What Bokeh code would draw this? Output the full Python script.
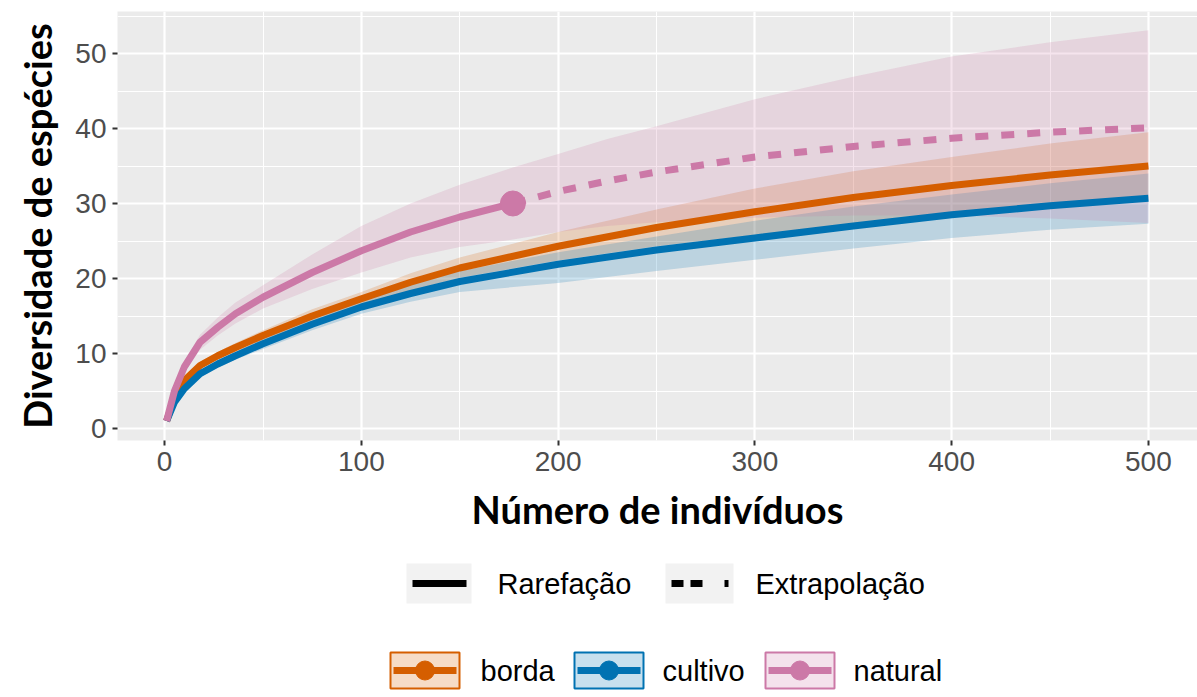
from bokeh.plotting import figure
from bokeh.models import Range1d, FixedTicker
from bokeh.layouts import column
from bokeh.embed import file_html
from bokeh.resources import INLINE
from bokeh.core.properties import value

# ---- species accumulation data (number of individuals vs. species) ----
groups = ["borda", "cultivo", "natural"]
method_labels = ["Rarefação", "Extrapolação"]

grid_x = [1, 5, 10, 18, 27, 36, 50, 75, 100, 125, 150, 200, 250, 300, 350, 400, 450, 500]

borda_y = [1, 4.0, 6.4, 8.4, 9.7, 10.8, 12.4, 15.0, 17.3, 19.5, 21.4, 24.3, 26.8, 28.9, 30.8, 32.4, 33.8, 35.0]
borda_lo = [1, 3.7, 6.0, 7.9, 9.2, 10.2, 11.7, 14.2, 16.4, 18.4, 20.1, 22.4, 24.3, 25.8, 27.3, 28.6, 29.7, 30.7]
borda_hi = [1, 4.3, 6.8, 8.9, 10.2, 11.4, 13.1, 15.9, 18.2, 20.7, 22.8, 26.2, 29.2, 32.0, 34.3, 36.2, 38.0, 39.5]

cultivo_y = [1, 3.5, 5.3, 7.3, 8.6, 9.7, 11.3, 13.9, 16.2, 18.0, 19.6, 21.9, 23.8, 25.4, 27.0, 28.5, 29.7, 30.7]
cultivo_lo = [1, 3.2, 4.9, 6.8, 8.1, 9.2, 10.6, 13.1, 15.3, 16.9, 18.2, 19.4, 21.0, 22.5, 24.0, 25.4, 26.5, 27.3]
cultivo_hi = [1, 3.8, 5.7, 7.8, 9.1, 10.2, 12.0, 14.7, 17.1, 19.2, 21.0, 23.5, 25.6, 27.7, 29.6, 31.2, 32.7, 34.0]

natural_rare_x = [1, 5, 10, 18, 27, 36, 50, 75, 100, 125, 150, 177]
natural_rare_y = [1, 5.0, 8.2, 11.5, 13.5, 15.3, 17.5, 20.8, 23.7, 26.2, 28.2, 30.0]
natural_extra_x = [177, 200, 225, 250, 300, 350, 400, 450, 500]
natural_extra_y = [30.0, 31.6, 33.0, 34.2, 36.2, 37.6, 38.7, 39.5, 40.1]
natural_band_x = natural_rare_x + natural_extra_x[1:]
natural_lo = [1, 4.5, 7.5, 10.5, 12.4, 14.0, 16.0, 18.6, 20.8, 22.8, 24.2, 25.2,
              26.2, 27.0, 27.5, 28.1, 28.4, 28.4, 28.0, 27.4]
natural_hi = [1, 5.5, 8.9, 12.5, 14.8, 16.8, 19.1, 23.2, 27.0, 30.0, 32.5, 34.8,
              36.6, 38.6, 40.3, 43.9, 46.9, 49.6, 51.5, 53.1]

x_ticks = [0, 100, 200, 300, 400, 500]
x_minor = [50, 150, 250, 350, 450]
y_ticks = [0, 10, 20, 30, 40, 50]
y_minor = [5, 15, 25, 35, 45, 55]

colors = {"borda": "#D55E00", "cultivo": "#0072B2", "natural": "#CC79A7"}

TICK_FONT = "Liberation Sans"
TITLE_FONT = "Lato"
LEFT = 117          # left border shared by the panel and the legend strip

# ---- main panel ----
p = figure(width=1197, height=545,
           x_range=Range1d(-23.95, 524.95), y_range=Range1d(-1.6, 55.6),
           output_backend="svg", toolbar_location=None,
           min_border_left=LEFT, min_border_right=0,
           min_border_top=11, min_border_bottom=105)
p.background_fill_color = "#EBEBEB"
p.border_fill_color = "white"
p.outline_line_color = None

p.xaxis.ticker = FixedTicker(ticks=x_ticks, minor_ticks=x_minor)
p.yaxis.ticker = FixedTicker(ticks=y_ticks, minor_ticks=y_minor)

for g in (p.xgrid, p.ygrid):
    g.grid_line_color = "white"
    g.grid_line_width = 2.2
    g.minor_grid_line_color = "white"
    g.minor_grid_line_width = 1.1

for ax in (p.xaxis, p.yaxis):
    ax.axis_line_color = None
    ax.major_tick_line_color = "#333333"
    ax.major_tick_line_width = 2
    ax.major_tick_out = 5
    ax.major_tick_in = 0
    ax.minor_tick_line_color = None
    ax.major_label_text_font = TICK_FONT
    ax.major_label_text_font_size = "28px"
    ax.major_label_text_color = "#4D4D4D"
    ax.major_label_standoff = 6
    ax.axis_label_text_font = TITLE_FONT
    ax.axis_label_text_font_style = "bold"
    ax.axis_label_text_font_size = "38px"
    ax.axis_label_text_color = "black"
    ax.axis_label_standoff = 12

p.xaxis.axis_label = "Número de indivíduos"
p.yaxis.axis_label = "Diversidade de espécies"

# confidence ribbons
p.varea(x=grid_x, y1=borda_lo, y2=borda_hi, fill_color=colors["borda"], fill_alpha=0.2)
p.varea(x=grid_x, y1=cultivo_lo, y2=cultivo_hi, fill_color=colors["cultivo"], fill_alpha=0.2)
p.varea(x=natural_band_x, y1=natural_lo, y2=natural_hi, fill_color=colors["natural"], fill_alpha=0.2)

# estimated curves
p.line(grid_x, borda_y, line_color=colors["borda"], line_width=7)
p.line(grid_x, cultivo_y, line_color=colors["cultivo"], line_width=7)
p.line(natural_rare_x, natural_rare_y, line_color=colors["natural"], line_width=7)
p.line(natural_extra_x, natural_extra_y, line_color=colors["natural"], line_width=7,
       line_dash="13 13")

# observed sample for the natural area
p.scatter([natural_rare_x[-1]], [natural_rare_y[-1]], size=25,
          fill_color=colors["natural"], line_color=colors["natural"])

# ---- legend strip (page-pixel coordinates, y downward) ----
TOP = 545
leg = figure(width=1197, height=697 - TOP,
             x_range=Range1d(LEFT, 1197), y_range=Range1d(697 - TOP, 0),
             output_backend="svg", toolbar_location=None,
             x_axis_type=None, y_axis_type=None,
             min_border_left=LEFT, min_border_right=0,
             min_border_top=0, min_border_bottom=0)
leg.grid.visible = False
leg.outline_line_color = None
leg.background_fill_color = "white"
leg.border_fill_color = "white"

row1_y = 583 - TOP
row2_y = 670 - TOP

# line-type keys
key1_left = [406, 665]
key1_w = [65, 68]
leg.quad(left=key1_left, right=[l + w for l, w in zip(key1_left, key1_w)],
         top=[row1_y - 20] * 2, bottom=[row1_y + 20] * 2,
         fill_color="#F2F2F2", line_color=None)
leg.line([412, 466], [row1_y, row1_y], line_color="black", line_width=7)
leg.line([671, 728], [row1_y, row1_y], line_color="black", line_width=7,
         line_dash="12 7 12 22")
leg.text(x=[497, 755], y=[row1_y] * 2, text=method_labels,
         text_font=value(TICK_FONT), text_font_size="29px",
         text_baseline="middle", text_align="left", text_color="black")

# group keys
key2_left = [390, 574, 765]
kw, kh = 69, 36
for g, left in zip(groups, key2_left):
    c = colors[g]
    leg.quad(left=[left], right=[left + kw], top=[row2_y - kh / 2], bottom=[row2_y + kh / 2],
             fill_color=c, fill_alpha=0.22, line_color=c, line_width=2)
    leg.line([left + 3, left + kw - 3], [row2_y, row2_y], line_color=c, line_width=7)
    leg.scatter([left + kw / 2], [row2_y], size=19, fill_color=c, line_color=c)
leg.text(x=[480, 662, 853], y=[row2_y] * 3, text=groups,
         text_font=value(TICK_FONT), text_font_size="29px",
         text_baseline="middle", text_align="left", text_color="black")

layout = column(p, leg, spacing=0)
open("out.html", "w").write(file_html(layout, INLINE))
